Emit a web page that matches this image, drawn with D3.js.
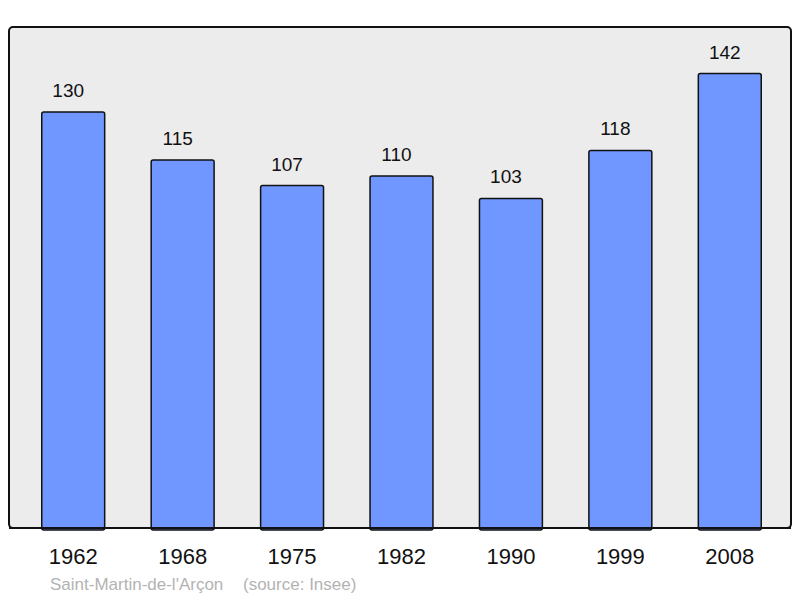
<!DOCTYPE html>
<html>
<head>
  <meta charset="utf-8">
  <script src="https://cdn.jsdelivr.net/npm/d3@7"></script>
  <style>
    body { margin: 0; background: #fff; }
    text { font-family: "Liberation Sans", Arial, sans-serif; }
  </style>
</head>
<body>
<script>
  // population data, Saint-Martin-de-l'Arçon
  var years = ["1962", "1968", "1975", "1982", "1990", "1999", "2008"];
  var population = [130, 115, 107, 110, 103, 118, 142];
  var caption = "Saint-Martin-de-l'Arçon";
  var source = "(source: Insee)";

  var width = 800, height = 598;
  var frame = {left: 9, top: 27, right: 791, bottom: 528};

  var svg = d3.select("body").append("svg")
    .attr("width", width)
    .attr("height", height);

  // plot background
  svg.append("rect")
    .attr("x", frame.left)
    .attr("y", frame.top)
    .attr("width", frame.right - frame.left)
    .attr("height", frame.bottom - frame.top)
    .attr("rx", 4)
    .attr("fill", "#ececec")
    .attr("stroke", "#111")
    .attr("stroke-width", 2);

  var x = d3.scaleBand()
    .domain(years)
    .range([18.5, 784.5])
    .paddingInner(0.425)
    .paddingOuter(0.2125);

  // 3.2 px per inhabitant
  var y = d3.scaleLinear()
    .domain([0, (frame.bottom - frame.top) / 3.2])
    .range([frame.bottom, frame.top]);

  var data = years.map(function(d, i) { return {year: d, value: population[i]}; });

  svg.selectAll("rect.bar")
    .data(data)
    .enter().append("rect")
    .attr("class", "bar")
    .attr("x", function(d) { return x(d.year); })
    .attr("y", function(d) { return y(d.value); })
    .attr("width", x.bandwidth())
    .attr("height", function(d) { return frame.bottom - y(d.value) + 2; })
    .attr("rx", 2)
    .attr("fill", "#7097ff")
    .attr("stroke", "#111")
    .attr("stroke-width", 1.5);

  // redraw bottom edge of frame over bar bases
  svg.append("line")
    .attr("x1", frame.left).attr("x2", frame.right)
    .attr("y1", frame.bottom).attr("y2", frame.bottom)
    .attr("stroke", "#111")
    .attr("stroke-width", 2);

  // value labels sit a little left of the bar centre
  svg.selectAll("text.value")
    .data(data)
    .enter().append("text")
    .attr("class", "value")
    .attr("x", function(d) { return x(d.year) + x.bandwidth() / 2 - 5; })
    .attr("y", function(d) { return y(d.value) - 15; })
    .attr("text-anchor", "middle")
    .style("font-size", "19px")
    .style("fill", "#111")
    .text(function(d) { return d.value; });

  // year labels
  var xAxis = svg.append("g")
    .attr("transform", "translate(0," + frame.bottom + ")")
    .call(d3.axisBottom(x).tickSize(0).tickPadding(0));
  xAxis.select(".domain").remove();
  xAxis.selectAll("text")
    .attr("dy", null)
    .attr("y", 36)
    .style("font-family", "Liberation Sans, Arial, sans-serif")
    .style("font-size", "22px")
    .style("fill", "#111");

  svg.append("text")
    .attr("x", 50)
    .attr("y", 590)
    .style("font-size", "17px")
    .style("fill", "#b3b3b3")
    .text(caption);

  svg.append("text")
    .attr("x", 243)
    .attr("y", 590)
    .style("font-size", "17px")
    .style("fill", "#b3b3b3")
    .text(source);
</script>
</body>
</html>
